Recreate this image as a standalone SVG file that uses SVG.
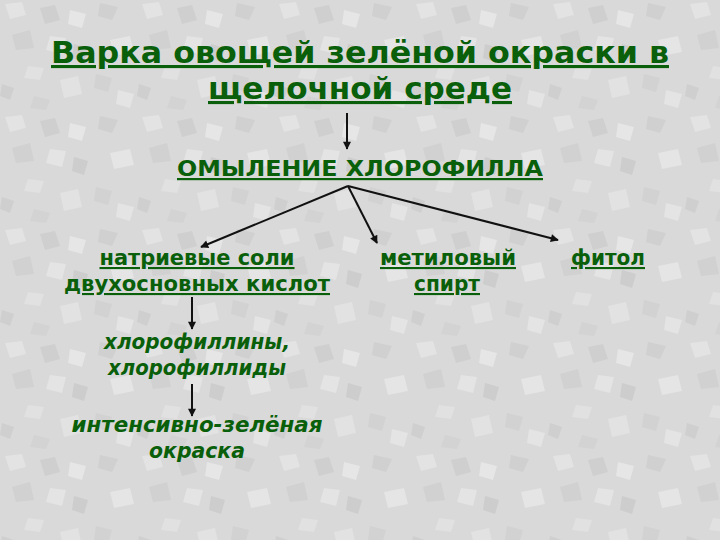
<svg xmlns="http://www.w3.org/2000/svg" width="720" height="540" viewBox="0 0 720 540">
<style>
.t{font-family:"DejaVu Sans","Liberation Sans",sans-serif;font-weight:bold;fill:#0a5f0a;text-anchor:middle}
.u{text-decoration:underline}
.i{font-style:italic}
.c{stroke:#111;stroke-width:2;fill:none;marker-end:url(#ah)}
</style>
<defs>
<marker id="ah" viewBox="0 0 10 10" refX="9" refY="5" markerWidth="5" markerHeight="4" orient="auto" markerUnits="strokeWidth">
<path d="M0,0 L10,5 L0,10 z" fill="#111"/>
</marker>
<pattern id="g" width="137" height="113" patternUnits="userSpaceOnUse">
<rect width="137" height="113" fill="#d9d9d9"/>
<polygon points="5,4 22,2 26,15 10,19" fill="#e3e3e3"/>
<polygon points="40,8 55,5 60,20 45,24" fill="#cfcfcf"/>
<polygon points="70,10 86,14 82,28 68,24" fill="#e6e6e6"/>
<polygon points="100,3 118,7 112,20 98,16" fill="#d0d0d0"/>
<polygon points="12,35 30,30 34,48 16,50" fill="#d1d1d1"/>
<polygon points="50,36 66,38 62,54 46,50" fill="#e4e4e4"/>
<polygon points="74,44 88,48 84,62 72,58" fill="#cdcdcd"/>
<polygon points="110,40 130,36 134,52 114,56" fill="#e5e5e5"/>
<polygon points="28,66 44,68 40,80 24,78" fill="#e1e1e1"/>
<polygon points="2,84 14,88 10,100 0,96" fill="#cfcfcf"/>
<polygon points="60,80 78,76 82,94 64,98" fill="#e2e2e2"/>
<polygon points="96,74 112,78 108,92 94,88" fill="#d2d2d2"/>
<polygon points="118,90 134,94 130,108 116,104" fill="#e4e4e4"/>
<polygon points="34,96 50,100 46,110 30,108" fill="#d3d3d3"/>
</pattern>
</defs>
<rect width="720" height="540" fill="url(#g)"/>
<g id="connectors">
<line class="c" x1="347" y1="113" x2="347" y2="149"/>
<line class="c" x1="348" y1="186" x2="201" y2="247"/>
<line class="c" x1="348" y1="186" x2="377" y2="243"/>
<line class="c" x1="348" y1="186" x2="558" y2="240"/>
<line class="c" x1="192" y1="297" x2="192" y2="329"/>
<line class="c" x1="192" y1="384" x2="192" y2="416"/>
</g>
<g id="title">
<text class="t u" x="360" y="63" font-size="31" textLength="618" lengthAdjust="spacingAndGlyphs">Варка овощей зелёной окраски в</text>
<text class="t u" x="360" y="99" font-size="31" textLength="304" lengthAdjust="spacingAndGlyphs">щелочной среде</text>
</g>
<g id="saponification">
<text class="t u" x="360" y="176" font-size="22" textLength="366" lengthAdjust="spacingAndGlyphs">ОМЫЛЕНИЕ ХЛОРОФИЛЛА</text>
</g>
<g id="salts">
<text class="t u" x="197" y="265" font-size="21" textLength="195" lengthAdjust="spacingAndGlyphs">натриевые соли</text>
<text class="t u" x="197" y="291" font-size="21" textLength="266" lengthAdjust="spacingAndGlyphs">двухосновных кислот</text>
</g>
<g id="methanol">
<text class="t u" x="448" y="265" font-size="21" textLength="136" lengthAdjust="spacingAndGlyphs">метиловый</text>
<text class="t u" x="447" y="291" font-size="21" textLength="66" lengthAdjust="spacingAndGlyphs">спирт</text>
</g>
<g id="phytol">
<text class="t u" x="608" y="265" font-size="21" textLength="74" lengthAdjust="spacingAndGlyphs">фитол</text>
</g>
<g id="chlorophyllins">
<text class="t i" x="197" y="349" font-size="21" textLength="186" lengthAdjust="spacingAndGlyphs">хлорофиллины,</text>
<text class="t i" x="197" y="375" font-size="21" textLength="178" lengthAdjust="spacingAndGlyphs">хлорофиллиды</text>
</g>
<g id="color">
<text class="t i" x="197" y="432" font-size="21" textLength="251" lengthAdjust="spacingAndGlyphs">интенсивно-зелёная</text>
<text class="t i" x="197" y="458" font-size="21" textLength="96" lengthAdjust="spacingAndGlyphs">окраска</text>
</g>
</svg>
